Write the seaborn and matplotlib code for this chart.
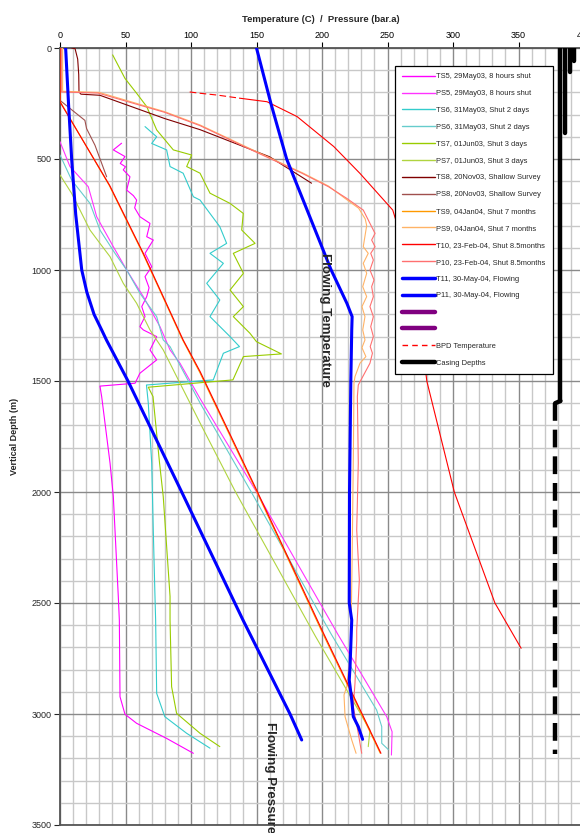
import numpy as np
import pandas as pd
import matplotlib
matplotlib.use("Agg")
import matplotlib.pyplot as plt
from matplotlib.lines import Line2D
import seaborn as sns

sns.set_theme(style="white")
plt.rcParams['font.family'] = ['Liberation Sans', 'DejaVu Sans']

# ---------------- data (value, depth) ----------------
ts5_val = [47, 40.7, 49.6, 46, 50, 48.3, 53.4, 50.9, 56, 58.5, 57, 61, 68.7, 66.2, 71.2, 64.9, 70, 64.9, 68,
           66.2, 62.4, 64.9, 61, 63.6, 73.8, 68.7, 73.8, 61, 57.3, 30.5, 31.8, 38.2, 40.7, 44.5, 45.3, 45.8,
           49.6, 58.5, 81.4, 101.8]
ts5_dep = [429, 459, 489, 520, 535, 549, 580, 640, 665, 685, 720, 760, 790, 850, 865, 925, 985, 1030, 1080,
           1120, 1165, 1210, 1255, 1270, 1300, 1360, 1405, 1465, 1510, 1523, 1570, 1870, 2020, 2471, 2577, 2922,
           3001, 3042, 3110, 3177]

ps5_val = [0, 7.6, 21.6, 28, 40.7, 50.9, 63.6, 76.3, 84, 91.6, 107, 150, 212, 249.4, 253.5, 253]
ps5_dep = [422, 534, 625, 760, 895, 1000, 1120, 1255, 1360, 1420, 1580, 2000, 2640, 3012, 3080, 3185]

ts6_val = [64.9, 73.8, 70, 81.4, 84, 94, 101.8, 106.9, 122, 127.2, 114.5, 124.7, 112, 122, 114.5, 129.8,
           137, 124.7, 117, 66, 67.4, 70, 71.2, 72.5, 73, 73.8, 80, 96.7, 114.5]
ts6_dep = [354, 400, 430, 459, 534, 564, 670, 685, 805, 880, 925, 970, 1060, 1135, 1210, 1300,
           1345, 1375, 1495, 1518, 1600, 1870, 2171, 2471, 2577, 2907, 3012, 3087, 3154]

ps6_val = [0, 8.9, 22.9, 30.5, 42, 50.9, 61, 73.8, 78.8, 84, 107, 146, 207, 241.7, 245.6, 245.6, 250.6]
ps6_dep = [482, 595, 700, 820, 925, 1000, 1105, 1210, 1315, 1345, 1600, 2000, 2640, 2982, 3057, 3132, 3160]

ts7_val = [40.2, 49.6, 58.5, 66.2, 73.8, 86.5, 100.5, 96.7, 106.9, 114.5, 129.8, 139.9, 138.7, 148.9, 132.3,
           140, 129.8, 140, 132.3, 145, 150, 169, 140, 132, 67.4, 71, 76, 78.8, 84, 84, 85.2, 89, 106.9, 122]
ts7_dep = [31, 137, 204, 264, 369, 459, 482, 534, 564, 654, 700, 745, 820, 880, 925,
           1015, 1090, 1165, 1210, 1285, 1323, 1378, 1390, 1495, 1528, 1570, 1870, 2020, 2470, 2577, 2877, 2997,
           3087, 3147]

ps7_val = [0, 8.9, 22.9, 30.5, 38.2, 48.3, 58.5, 68.7, 78.8, 91.6, 107, 134, 195, 218.9, 236.6, 235.3]
ps7_dep = [572, 655, 820, 880, 940, 1060, 1150, 1270, 1360, 1510, 1690, 2000, 2650, 2892, 3072, 3147]

ts8_val = [9, 11.5, 13.5, 14.3, 14.5, 16, 30.5, 80, 107, 160, 192]
ts8_dep = [0, 3, 50, 120, 198, 208, 213, 318, 368, 490, 609]

ps8_val = [0, 0, 19, 20.3, 26.7, 35.6]
ps8_dep = [0, 236, 326, 363, 438, 580]

# bright (straight) lines
t10_val = [0, 0, 38, 63.6, 94, 107, 150, 200, 245]
t10_dep = [0, 243, 620, 925, 1315, 1458, 1990, 2622, 3177]
ts9_val = [0, 0, 37.5, 63.2, 93.6, 106.6, 149.6, 199.6, 244.5]
ts9_dep = [0, 240, 618, 925, 1315, 1460, 1992, 2625, 3177]

# hot (static) curves
p10_val = [1, 1, 29, 80, 107, 150, 185, 205, 218.8, 231.5, 237.9, 240.5, 237.9, 240.5, 237.2, 239.2, 236.6,
           239.7, 237.9, 239.2, 236.6, 239.2, 237.2, 239.2, 236.8, 238.5, 236.6, 227.7, 227, 227.7, 226.5,
           228.5, 226.5, 226.5, 225.2, 223.9, 227.7, 230.3]
p10_dep = [0, 198, 203, 290, 350, 470, 565, 625, 677, 730, 805, 835, 865, 895, 925, 955, 1000,
           1045, 1075, 1120, 1165, 1210, 1255, 1300, 1345, 1375, 1420, 1518, 1570, 1870, 2171,
           2396, 2622, 2667, 2860, 2967, 3087, 3177]
ps9_val = [2, 2, 30, 80, 107, 150, 185, 205, 217, 228, 233, 234.1, 231.5, 235.3, 231.5, 234.1, 231.1, 234.1,
           230.5, 232.8, 231.1, 232.8, 230.5, 233.5, 229, 225.2, 224.4, 224, 223, 222, 218.9, 216.8, 217.6,
           222.7, 226]
ps9_dep = [0, 195, 200, 287, 347, 467, 562, 622, 675, 722, 770, 800, 895, 925, 970, 1015, 1075, 1120,
           1165, 1210, 1270, 1315, 1350, 1390, 1420, 1480, 1509, 1800, 2300, 2700, 2877, 2914, 3012,
           3117, 3177]

t11_val = [150, 161, 173, 190, 207, 219, 223, 222.7, 222, 221, 220.8, 222.7, 221.4, 220.8, 222.7, 223.9,
           227.7, 231]
t11_dep = [0, 250, 500, 750, 1000, 1150, 1210, 1270, 1500, 2000, 2500, 2577, 2787, 2847, 2937, 3012,
           3057, 3114]
p11_val = [4.3, 6.5, 8.9, 12, 16.6, 20.5, 26, 31.8, 35.6, 51.9, 92.9, 139.7, 175.6, 184.5]
p11_dep = [0, 250, 500, 750, 1000, 1100, 1200, 1270, 1317, 1500, 2000, 2577, 3000, 3117]

bpd_top_val = [99, 107, 120, 137]
bpd_top_dep = [198, 204, 212, 226]
bpd_val = [137, 158, 181, 209, 229, 254, 268, 276, 280, 301, 332, 352]
bpd_dep = [226, 242, 309, 444, 565, 730, 1000, 1300, 1500, 2000, 2500, 2704]

casing_val = [382, 385.5, 389, 392]
casing_top = [0, 0, 0, 0]
casing_bot = [1590, 385, 110, 60]
liner_val = [382, 378, 378, 378]
liner_dep = [1590, 1600, 1600, 3180]

legend_labels = ["TS5, 29May03, 8 hours shut", "PS5, 29May03, 8 hours shut",
                 "TS6, 31May03, Shut 2 days", "PS6, 31May03, Shut 2 days",
                 "TS7, 01Jun03, Shut 3 days", "PS7, 01Jun03, Shut 3 days",
                 "TS8, 20Nov03, Shallow Survey", "PS8, 20Nov03, Shallow Survey",
                 "TS9, 04Jan04, Shut 7 months", "PS9, 04Jan04, Shut 7 months",
                 "T10, 23-Feb-04, Shut 8.5months", "P10, 23-Feb-04, Shut 8.5months",
                 "T11, 30-May-04, Flowing", "P11, 30-May-04, Flowing",
                 " ", " ", "BPD Temperature", "Casing Depths"]

x_ticks = [0, 50, 100, 150, 200, 250, 300, 350, 400]
y_ticks = [0, 500, 1000, 1500, 2000, 2500, 3000, 3500]

# ---------------- colours ----------------
C = {
    'TS5': '#FF00FF', 'PS5': '#FF33FF', 'TS6': '#33CCCC', 'PS6': '#66CCCC',
    'TS7': '#99CC00', 'PS7': '#B0D440', 'TS8': '#800000', 'PS8': '#A0504D',
    'TS9': '#FF9900', 'PS9': '#FFB366', 'T10': '#FF0000', 'P10': '#FF7070',
    'T11': '#0000FF', 'P11': '#0000FF', 'PUR': '#800080', 'BPD': '#FF0000', 'CAS': '#000000'
}

fig = plt.figure(figsize=(5.8, 8.33), dpi=100)
ax = fig.add_axes([60/580, 8/833, 524/580, 777/833])


def draw(vals, deps, color, lw=0.8, ls='-', z=3):
    df = pd.DataFrame({'v': vals, 'd': deps})
    sns.lineplot(data=df, x='v', y='d', sort=False, estimator=None, color=color,
                 lw=lw, ls=ls, ax=ax, zorder=z, legend=False)


draw(ts5_val, ts5_dep, C['TS5'])
draw(ps5_val, ps5_dep, C['PS5'])
draw(ts6_val, ts6_dep, C['TS6'])
draw(ps6_val, ps6_dep, C['PS6'])
draw(ts7_val, ts7_dep, C['TS7'])
draw(ps7_val, ps7_dep, C['PS7'])
draw(ts8_val, ts8_dep, C['TS8'])
draw(ps8_val, ps8_dep, C['PS8'])
draw(ps9_val, ps9_dep, C['PS9'])
draw(p10_val, p10_dep, C['P10'])
draw(ts9_val, ts9_dep, C['TS9'])
draw(t10_val, t10_dep, C['T10'])
draw(t11_val, t11_dep, C['T11'], lw=2.2, z=4)
draw(p11_val, p11_dep, C['P11'], lw=2.2, z=4)
draw(bpd_top_val, bpd_top_dep, C['BPD'], lw=0.8, ls=(0, (6, 3)))
draw(bpd_val, bpd_dep, C['BPD'], lw=0.8)
for v, t, b in zip(casing_val, casing_top, casing_bot):
    draw([v, v], [t, b], C['CAS'], lw=3.2, z=5)
draw(liner_val[:3], liner_dep[:3], C['CAS'], lw=3.2, z=5)
draw(liner_val[2:], liner_dep[2:], C['CAS'], lw=3.2, ls=(0, (4, 2)), z=5)

# axes
ax.set_xlim(0, 400)
ax.set_ylim(3500, 0)
ax.set_xticks(x_ticks)
ax.set_xticks(np.arange(0, 401, 10), minor=True)
ax.set_yticks(y_ticks)
ax.set_yticks(np.arange(0, 3501, 100), minor=True)
ax.xaxis.tick_top()
ax.tick_params(axis='x', which='major', top=True, bottom=False, length=4, width=0.8,
               labelsize=6.5, pad=2, colors='black', direction='out')
ax.tick_params(axis='y', which='major', left=True, length=4, width=0.8, labelsize=6.5, pad=2,
               direction='out')
ax.tick_params(which='minor', length=0)
ax.grid(which='minor', color='#C8C8C8', lw=1.0)
ax.grid(which='major', color='#8A8A8A', lw=1.0)
ax.set_axisbelow(True)
ax.set_xlabel('')
ax.set_ylabel('')
for s in ['top', 'left', 'bottom']:
    ax.spines[s].set_color('#555555')
    ax.spines[s].set_linewidth(1.3)
ax.spines['right'].set_visible(False)

fig.text(321/580, 1 - 19/833, 'Temperature (C)  /  Pressure (bar.a)', ha='center', va='center',
         fontsize=6.8, fontweight='bold')
fig.text(15/580, 1 - 436/833, 'Vertical Depth (m)', rotation=90, ha='center', va='center',
         fontsize=6.5, fontweight='bold')

ax.text(202, 923, 'Flowing Temperature', rotation=-90, ha='center', va='top',
        fontsize=9.6, fontweight='bold', zorder=6)
ax.text(160.3, 3036, 'Flowing Pressure', rotation=-90, ha='center', va='top',
        fontsize=9.6, fontweight='bold', zorder=6, clip_on=False)

# legend
keys = ['TS5', 'PS5', 'TS6', 'PS6', 'TS7', 'PS7', 'TS8', 'PS8', 'TS9', 'PS9', 'T10', 'P10',
        'T11', 'P11', 'PUR', 'PUR', 'BPD', 'CAS']
handles = []
for k in keys:
    lw = 1.0
    ls = '-'
    if k in ('T11', 'P11'):
        lw = 2.5
    if k == 'PUR':
        lw = 3.2
    if k == 'CAS':
        lw = 3.2
    if k == 'BPD':
        ls = (0, (4, 3))
    handles.append(Line2D([], [], color=C[k], lw=lw, ls=ls))
leg = ax.legend(handles, legend_labels, loc='upper left',
                bbox_to_anchor=(395/580, 1 - 66/833), bbox_transform=fig.transFigure,
                fontsize=5.4, handlelength=4.4, handletextpad=0.15, labelspacing=1.28,
                borderpad=0.95, frameon=True, fancybox=False, edgecolor='black',
                framealpha=1.0, borderaxespad=0)
leg.get_frame().set_linewidth(0.9)
leg.set_zorder(10)

fig.savefig('out.png', dpi=100)
